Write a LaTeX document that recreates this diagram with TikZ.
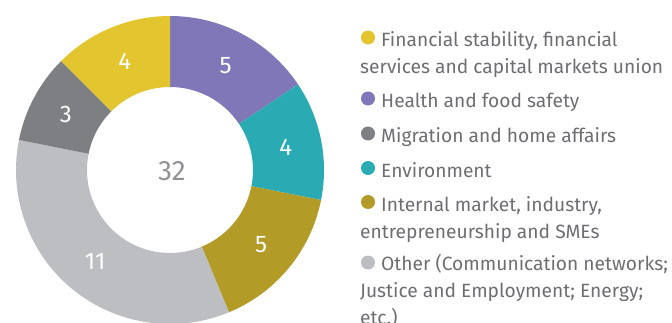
\documentclass[tikz,border=0pt]{standalone}
\usepackage{fontspec}
\setmainfont{Fira Sans}
\definecolor{yelc}{HTML}{E3C530}
\definecolor{purc}{HTML}{7F77B7}
\definecolor{teac}{HTML}{2AABB4}
\definecolor{olic}{HTML}{B39B27}
\definecolor{lgrc}{HTML}{BDBEC2}
\definecolor{dgrc}{HTML}{7E7F83}
\definecolor{txtc}{HTML}{6D6E71}
\begin{document}
\begin{tikzpicture}[x=1pt,y=1pt]
    \tikzstyle{every node}+=[inner sep=0pt]
    \tikzstyle{num}=[text=white,font=\fontsize{24}{24}\selectfont]
    \tikzstyle{dot}=[circle,minimum size=14pt]
    \tikzstyle{legtext}=[anchor=base west,align=left,text=txtc,font=\fontsize{19.2}{27}\selectfont]
    \useasboundingbox (0,0) rectangle (672,322);
    \clip (0,0) rectangle (672,322);
    % donut
    \begin{scope}[shift={(170,152)}]
    \fill [purc] (90:154) arc [start angle=90, end angle=33.75, radius=154] -- (33.75:83) arc [start angle=33.75, end angle=90, radius=83] -- cycle;
    \fill [teac] (33.75:154) arc [start angle=33.75, end angle=-11.25, radius=154] -- (-11.25:83) arc [start angle=-11.25, end angle=33.75, radius=83] -- cycle;
    \fill [olic] (-11.25:154) arc [start angle=-11.25, end angle=-67.5, radius=154] -- (-67.5:83) arc [start angle=-67.5, end angle=-11.25, radius=83] -- cycle;
    \fill [lgrc] (-67.5:154) arc [start angle=-67.5, end angle=-191.25, radius=154] -- (-191.25:83) arc [start angle=-191.25, end angle=-67.5, radius=83] -- cycle;
    \fill [dgrc] (168.75:154) arc [start angle=168.75, end angle=135, radius=154] -- (135:83) arc [start angle=135, end angle=168.75, radius=83] -- cycle;
    \fill [yelc] (135:154) arc [start angle=135, end angle=90, radius=154] -- (90:83) arc [start angle=90, end angle=135, radius=83] -- cycle;
    \node [num] (n1) at (61.875:118) {5};
    \node [num] (n2) at (11.25:118) {4};
    \node [num] (n3) at (-39.375:118) {5};
    \node [num] (n4) at (-129.375:118) {11};
    \node [num] (n5) at (151.875:118) {3};
    \node [num] (n6) at (112.5:118) {4};
    \node [text=dgrc!85,font=\fontsize{28}{28}\selectfont] (tot) at (2,-1) {32};
    \end{scope}
    % legend (base = last line)
    \node [dot,fill=yelc] (d1) at (368,284.5) {};
    \node [legtext] (t1) at (360,248) {\hspace*{21pt}Financial stability, financial\\services and capital markets union};
    \node [dot,fill=purc] (d2) at (368,223.5) {};
    \node [legtext] (t2) at (360,214.5) {\hspace*{21pt}Health and food safety};
    \node [dot,fill=dgrc] (d3) at (368,188.5) {};
    \node [legtext] (t3) at (360,179.5) {\hspace*{21pt}Migration and home affairs};
    \node [dot,fill=teac] (d4) at (368,154) {};
    \node [legtext] (t4) at (360,145) {\hspace*{21pt}Environment};
    \node [dot,fill=olic] (d5) at (368,120) {};
    \node [legtext] (t5) at (360,84) {\hspace*{21pt}Internal market, industry,\\entrepreneurship and SMEs};
    \node [dot,fill=lgrc] (d6) at (368,59.5) {};
    \node [legtext] (t6) at (360,-2) {\hspace*{21pt}Other (Communication networks;\\Justice and Employment; Energy;\\etc.)};
\end{tikzpicture}
\end{document}
